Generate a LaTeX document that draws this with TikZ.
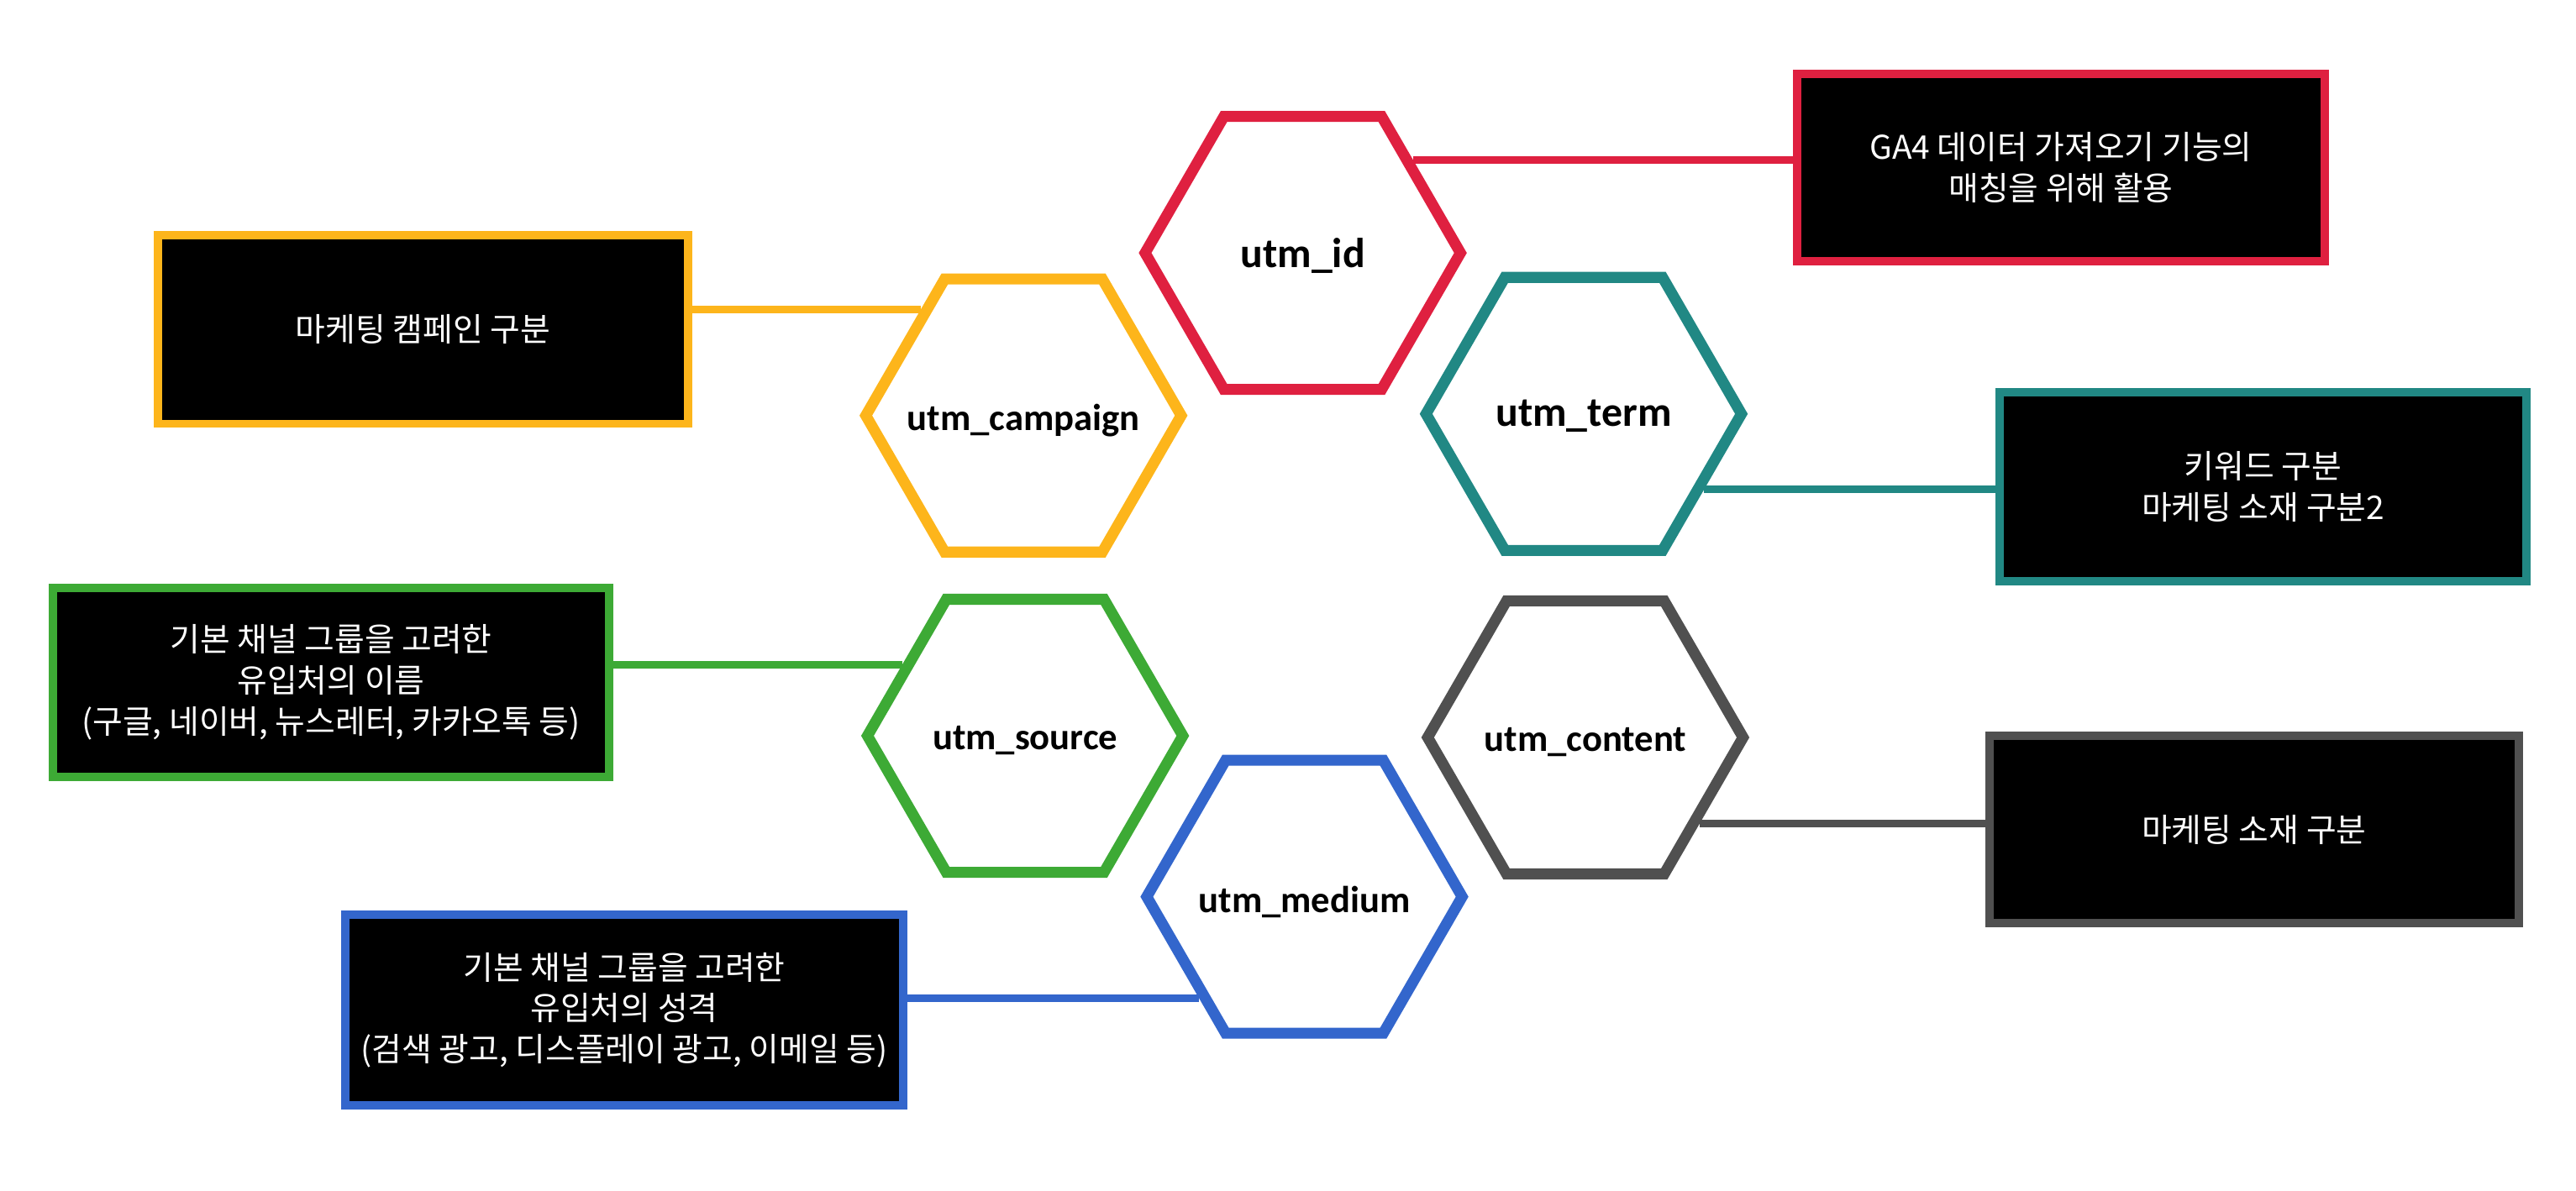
\documentclass[tikz,border=0pt]{standalone}
\usepackage{fontspec}
\setmainfont{Carlito}
\newfontfamily\krfont{Noto Sans CJK KR}
\usetikzlibrary{shapes.geometric}
\definecolor{utmred}{HTML}{DF2040}
\definecolor{utmyellow}{HTML}{FDB51B}
\definecolor{utmteal}{HTML}{218884}
\definecolor{utmgreen}{HTML}{3DAA35}
\definecolor{utmgray}{HTML}{505050}
\definecolor{utmblue}{HTML}{3366CC}

\begin{document}
\begin{tikzpicture}[x=0.02cm,y=-0.02cm,
  hexa/.style={regular polygon,regular polygon sides=6,minimum size=3.84cm,inner sep=0pt,
    line width=3.8pt,draw=#1},
  hexlabel/.style={font=\bfseries\fontsize{13}{15}\selectfont,yshift=-0.06cm},
  biglabel/.style={font=\bfseries\fontsize{14.5}{16}\selectfont,yshift=-0.03cm},
  descbox/.style={rectangle,draw=#1,fill=black,line width=2.9pt,text=white,align=center,
    inner sep=0pt,font=\krfont\fontsize{11.3}{14.2}\selectfont},
  link/.style={draw=#1,line width=2.7pt}]
\useasboundingbox (0,0) rectangle (1568,725);
% hexagons
\node[hexa=utmred,label={[biglabel]center:utm\_id}] (id) at (793,154) {};
\node[hexa=utmyellow,label={[hexlabel]center:utm\_campaign}] (campaign) at (623,253) {};
\node[hexa=utmteal,label={[biglabel]center:utm\_term}] (term) at (964,252) {};
\node[hexa=utmgreen,label={[hexlabel]center:utm\_source}] (source) at (624,448) {};
\node[hexa=utmgray,label={[hexlabel]center:utm\_content}] (content) at (965,449) {};
\node[hexa=utmblue,label={[hexlabel]center:utm\_medium}] (medium) at (794,546) {};
% description boxes
\node[descbox=utmred,minimum width=6.42cm,minimum height=2.28cm] (idbox) at (1254.5,102)
  {GA4 데이터 가져오기 기능의\\매칭을 위해 활용};
\node[descbox=utmyellow,minimum width=6.46cm,minimum height=2.3cm] (campaignbox) at (257.5,200.5)
  {마케팅 캠페인 구분};
\node[descbox=utmteal,minimum width=6.42cm,minimum height=2.3cm] (termbox) at (1377.5,296.5)
  {키워드 구분\\마케팅 소재 구분2};
\node[descbox=utmgreen,minimum width=6.78cm,minimum height=2.3cm] (sourcebox) at (201.5,415.5)
  {기본 채널 그룹을 고려한\\유입처의 이름\\(구글, 네이버, 뉴스레터, 카카오톡 등)};
\node[descbox=utmgray,minimum width=6.44cm,minimum height=2.28cm] (contentbox) at (1372,505)
  {마케팅 소재 구분};
\node[descbox=utmblue,minimum width=6.8cm,minimum height=2.32cm] (mediumbox) at (380,615)
  {기본 채널 그룹을 고려한\\유입처의 성격\\(검색 광고, 디스플레이 광고, 이메일 등)};
% connectors
\draw[link=utmred] (id.40) -- (id.40 -| idbox.west);
\draw[link=utmyellow] (campaign.134) -- (campaign.134 -| campaignbox.east);
\draw[link=utmteal] (term.328) -- (term.328 -| termbox.west);
\draw[link=utmgreen] (source.150) -- (source.150 -| sourcebox.east);
\draw[link=utmgray] (content.323) -- (content.323 -| contentbox.west);
\draw[link=utmblue] (medium.224) -- (medium.224 -| mediumbox.east);
\end{tikzpicture}
\end{document}
